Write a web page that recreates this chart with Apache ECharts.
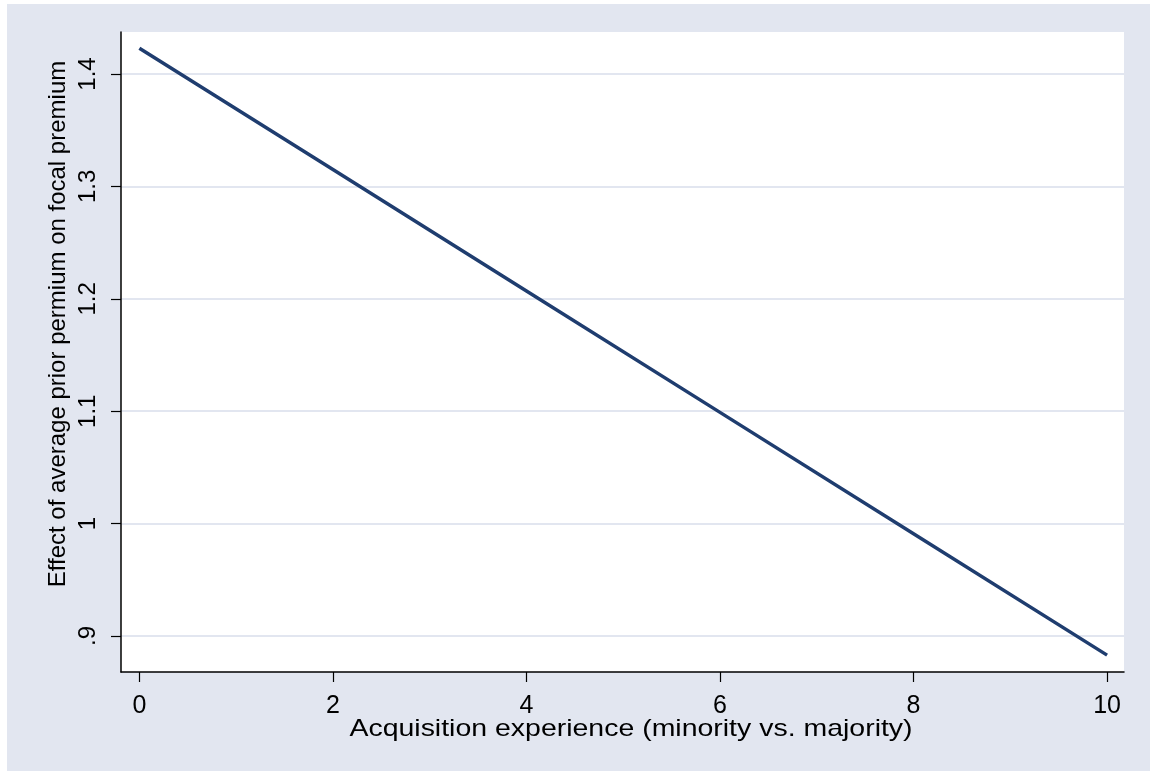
<!DOCTYPE html>
<html>
<head>
<meta charset="utf-8">
<script src="https://cdn.jsdelivr.net/npm/echarts@6/dist/echarts.min.js"></script>
<style>
  html, body { margin: 0; padding: 0; background: #ffffff; }
  #chart { position: absolute; left: 7px; top: 4px; width: 1143px; height: 767px; }
</style>
</head>
<body>
<div id="chart"></div>
<script>
// Predicted effect across levels of acquisition experience
const experience = [0, 2, 4, 6, 8, 10];
const effect = [1.423, 1.315, 1.207, 1.099, 0.991, 0.883];

const xTicks = [0, 2, 4, 6, 8, 10];
const yTicks = [0.9, 1.0, 1.1, 1.2, 1.3, 1.4];

const xTitle = 'Acquisition experience (minority vs. majority)';
const yTitle = 'Effect of average prior permium on focal premium';

const FONT = '"Liberation Sans", Arial, sans-serif';
const BG = '#E2E6F0';

function fmtY(v) {
  const r = Math.round(v * 10) / 10;
  let s = String(r);
  if (s.startsWith('0.')) s = s.slice(1);
  return s;
}

const chart = echarts.init(document.getElementById('chart'), null, { renderer: 'canvas' });

chart.setOption({
  animation: false,
  backgroundColor: BG,
  grid: { left: 114, top: 28, right: 26, bottom: 99, show: true, backgroundColor: '#ffffff', borderWidth: 0 },
  xAxis: {
    type: 'value',
    min: -0.19,
    max: 10.175,
    axisLine: { show: true, onZero: false, lineStyle: { color: '#000000', width: 1.5 } },
    axisTick: { show: true, length: 10, customValues: xTicks, lineStyle: { color: '#000000', width: 1.2 } },
    axisLabel: { customValues: xTicks, margin: 22, color: '#000000', fontSize: 25, fontFamily: FONT },
    splitLine: { show: false }
  },
  yAxis: {
    type: 'value',
    min: 0.868,
    max: 1.4374,
    axisLine: { show: true, onZero: false, lineStyle: { color: '#000000', width: 1.5 } },
    axisTick: { show: true, length: 10, customValues: yTicks, lineStyle: { color: '#000000', width: 1.2 } },
    axisLabel: {
      customValues: yTicks, rotate: 90, margin: 21, color: '#000000', fontSize: 24, fontFamily: FONT,
      formatter: fmtY
    },
    splitLine: { show: true, lineStyle: { color: BG, width: 2 } }
  },
  graphic: [
    {
      type: 'text', x: 624, y: 725, scaleX: 1.186,
      style: { text: xTitle, fill: '#000000', fontSize: 24, fontFamily: FONT, align: 'center', verticalAlign: 'middle' }
    },
    {
      type: 'text', x: 51, y: 320, rotation: Math.PI / 2,
      style: { text: yTitle, fill: '#000000', fontSize: 24, fontFamily: FONT, align: 'center', verticalAlign: 'middle' }
    }
  ],
  series: [{
    type: 'line',
    data: experience.map((x, i) => [x, effect[i]]),
    showSymbol: false,
    lineStyle: { color: '#1F3D6F', width: 3.5 }
  }]
});
</script>
</body>
</html>
